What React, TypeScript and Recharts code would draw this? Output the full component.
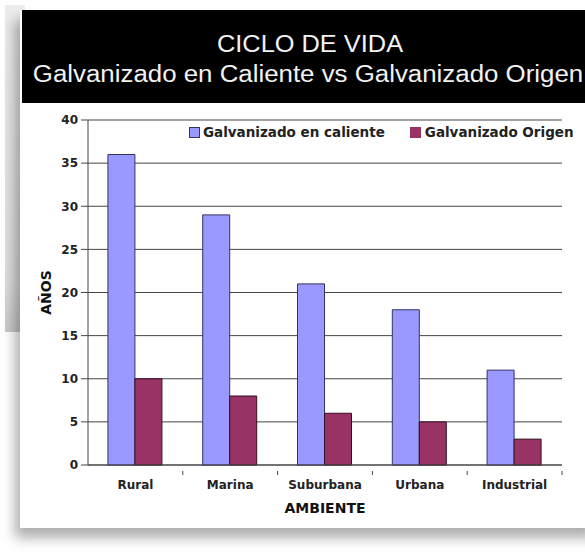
import { BarChart, Bar, XAxis, YAxis, CartesianGrid, Label } from 'recharts';

const ambientes = ['Rural', 'Marina', 'Suburbana', 'Urbana', 'Industrial'];
const enCaliente = [36, 29, 21, 18, 11];
const origen = [10, 8, 6, 5, 3];
const yTicks = [0, 5, 10, 15, 20, 25, 30, 35, 40];

const data = ambientes.map((name, i) => ({
  name,
  caliente: enCaliente[i],
  origen: origen[i],
}));

const titleFont = 'Arial, "Liberation Sans", Helvetica, sans-serif';
const chartFont = '"DejaVu Sans", Verdana, sans-serif';

const CHART_W = 585;
const MARGIN = { top: 120, right: 23, left: 48, bottom: 58 };
const Y_AXIS_W = 40;
const band = (CHART_W - MARGIN.left - MARGIN.right - Y_AXIS_W) / ambientes.length;

// category label plus the small boundary tick to the right of it
function XTick(props: any) {
  const { x, y, payload } = props;
  return (
    <g>
      <line x1={x + band / 2} x2={x + band / 2} y1={y - 10} y2={y - 6} stroke="#444" />
      <text
        x={x}
        y={y + 8}
        textAnchor="middle"
        fill="#222"
        fontSize={12}
        fontWeight="bold"
        fontFamily={chartFont}
      >
        {payload.value}
      </text>
    </g>
  );
}

function LegendBox() {
  return (
    <div
      style={{
        position: 'absolute',
        left: 160,
        top: 121,
        width: 425,
        height: 22,
        display: 'flex',
        alignItems: 'center',
        background: '#fff',
        fontFamily: chartFont,
        fontWeight: 'bold',
        fontSize: 13.5,
        color: '#222',
        whiteSpace: 'nowrap',
      }}
    >
      <span
        style={{
          marginLeft: 29,
          width: 9,
          height: 9,
          background: '#9999ff',
          border: '1px solid #333366',
          marginRight: 3,
        }}
      />
      <span style={{ marginRight: 25 }}>Galvanizado en caliente</span>
      <span style={{ width: 11, height: 11, background: '#993366', marginRight: 4 }} />
      <span>Galvanizado Origen</span>
    </div>
  );
}

export default function App() {
  return (
    <div
      style={{
        position: 'absolute',
        left: 0,
        top: 0,
        width: 585,
        height: 553,
        background: '#fff',
        overflow: 'hidden',
      }}
    >
      {/* gray page edge on the left */}
      <div
        style={{
          position: 'absolute',
          left: 5,
          top: 5,
          width: 20,
          height: 327,
          background: 'linear-gradient(to bottom, #ececec, #dcdcdc 85%, #c8c8c8)',
        }}
      />
      {/* card */}
      <div
        style={{
          position: 'absolute',
          left: 20,
          top: 10,
          width: 580,
          height: 518,
          background: '#fff',
          boxShadow: '-5px 10px 12px rgba(0,0,0,0.32)',
        }}
      />
      <div
        style={{
          position: 'absolute',
          left: 22,
          top: 10,
          width: 570,
          height: 93,
          background: '#000',
          color: '#f2f2f2',
          fontFamily: titleFont,
          fontSize: 23.5,
          textAlign: 'center',
          lineHeight: '30px',
          paddingTop: 19,
          boxSizing: 'border-box',
          whiteSpace: 'nowrap',
        }}
      >
        <div style={{ transform: 'scaleX(1.08)', marginLeft: 6 }}>CICLO DE VIDA</div>
        <div style={{ transform: 'scaleX(1.1)', marginLeft: 2 }}>
          Galvanizado en Caliente vs Galvanizado Origen
        </div>
      </div>
      <div style={{ position: 'absolute', left: 0, top: 0 }}>
        <BarChart
          width={CHART_W}
          height={553}
          data={data}
          margin={MARGIN}
          barCategoryGap="21%"
          barGap={0}
        >
          <CartesianGrid vertical={false} stroke="#444" strokeWidth={1} />
          <XAxis
            dataKey="name"
            height={30}
            tickLine={false}
            axisLine={{ stroke: '#444' }}
            tick={<XTick />}
            tickMargin={10}
            interval={0}
          >
            <Label
              value="AMBIENTE"
              position="insideBottom"
              offset={-18}
              style={{ fill: '#111', fontSize: 14, fontWeight: 'bold', fontFamily: chartFont }}
            />
          </XAxis>
          <YAxis
            width={Y_AXIS_W}
            domain={[0, 40]}
            ticks={yTicks}
            interval={0}
            tickSize={7}
            tickMargin={3}
            tickLine={{ stroke: '#444' }}
            axisLine={{ stroke: '#444' }}
            tick={{ fill: '#222', fontSize: 12, fontWeight: 'bold', fontFamily: chartFont }}
          >
            <Label
              value="AÑOS"
              angle={-90}
              position="insideLeft"
              offset={-2}
              style={{ fill: '#111', fontSize: 14, fontWeight: 'bold', fontFamily: chartFont, textAnchor: 'middle' }}
            />
          </YAxis>
          <Bar dataKey="caliente" fill="#9999ff" stroke="#333366" strokeWidth={1} isAnimationActive={false} />
          <Bar dataKey="origen" fill="#993366" stroke="#331122" strokeWidth={1} isAnimationActive={false} />
        </BarChart>
      </div>
      <LegendBox />
    </div>
  );
}
